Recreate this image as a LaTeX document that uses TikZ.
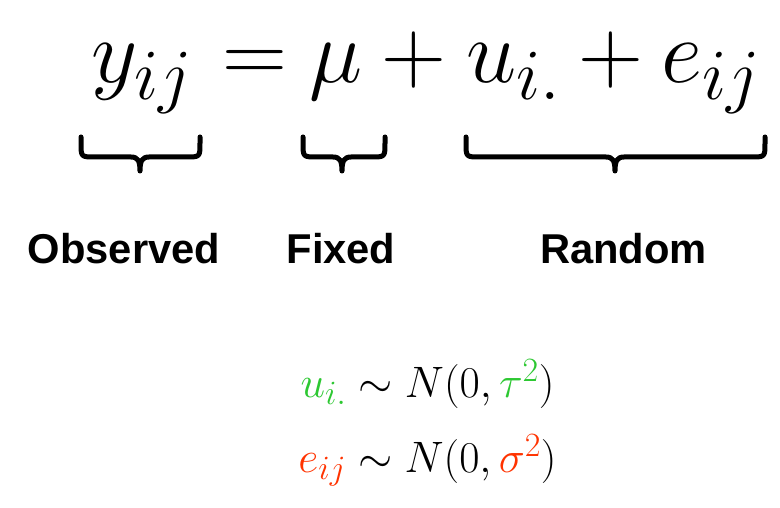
\RequirePackage{fix-cm}
\documentclass[tikz,border=0pt]{standalone}
\usepackage{fontspec}
\newfontfamily\labelfont{Liberation Sans}[Scale=1]
\DeclareMathSizes{90}{90}{72}{54}
\DeclareMathSizes{44}{44}{34}{26}
\definecolor{randgreen}{RGB}{45,200,50}
\definecolor{randred}{RGB}{255,51,0}
\tikzset{
  bigmath/.style={inner sep=0pt, anchor=base, font=\fontsize{90}{100}\selectfont},
  bigmathw/.style={bigmath, anchor=base west},
  smallmath/.style={inner sep=0pt, anchor=base, font=\fontsize{44}{50}\selectfont},
  lbl/.style={inner sep=0pt, anchor=base, font=\labelfont\bfseries\fontsize{41.7}{48}\selectfont},
  bracestroke/.style={line width=5pt, line cap=round, line join=round}
}
\newcommand\mybrace[3]{%
  \draw[bracestroke] (#1,137) -- (#1,143) .. controls (#1,157) .. (#1+14,157)
    -- (#3-9,157) .. controls (#3-2,157) and (#3,161) .. (#3,171)
    .. controls (#3,161) and (#3+2,157) .. (#3+9,157)
    -- (#2-14,157) .. controls (#2,157) .. (#2,143) -- (#2,137);}
\begin{document}
\begin{tikzpicture}[x=1pt,y=-1pt]
\useasboundingbox[fill=white] (0,0) rectangle (780,508);
% main equation
\node[bigmathw] (y) at (91,83) {$y_{ij}$};
\node[bigmath] (eq) at (255,83) {$=$};
\node[bigmath] (mu) at (336,83) {$\mu$};
\node[bigmath] (p1) at (414,83) {$+$};
\node[bigmathw] (u) at (466,83) {$u_{i.}$};
\node[bigmath] (p2) at (611,83) {$+$};
\node[bigmathw] (e) at (661,83) {$e_{ij}$};
% braces
\mybrace{81}{200}{140}
\mybrace{303}{385}{342}
\mybrace{466}{765}{615}
% labels
\node[lbl] (obs) at (124,263) {Observed};
\node[lbl] (fix) at (341,263) {Fixed};
\node[lbl] (ran) at (623.5,263) {Random};
% distributions
\node[smallmath] (d1) at (427.5,397) {$\color{randgreen}u_{i.}\color{black}\sim N(0,\color{randgreen}\tau^{2}\color{black})$};
\node[smallmath] (d2) at (427.5,472) {$\color{randred}e_{ij}\color{black}\sim N(0,\color{randred}\sigma^{2}\color{black})$};
\end{tikzpicture}
\end{document}
